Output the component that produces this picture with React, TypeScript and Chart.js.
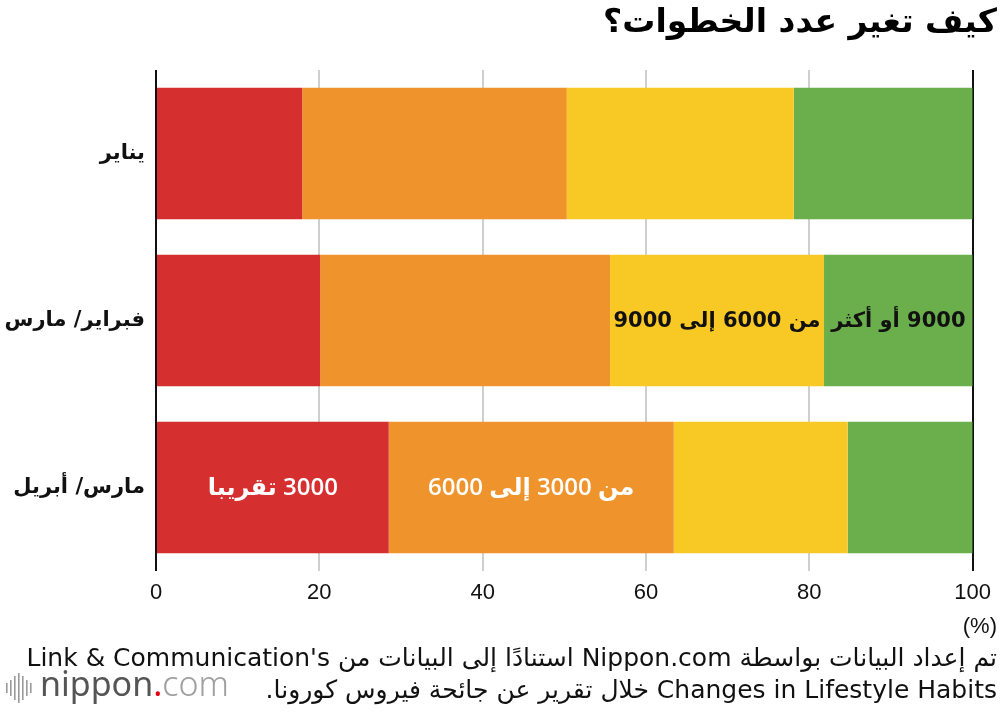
import React, { useEffect, useRef } from "react";
import { Chart, registerables } from "chart.js";

Chart.register(...registerables);

const categories = ["يناير", "فبراير/ مارس", "مارس/ أبريل"];
const seriesLabels = ["3000 تقريبا", "من 3000 إلى 6000", "من 6000 إلى 9000", "9000 أو أكثر"];
const under3000 = [17.9, 20.1, 28.5];
const from3000to6000 = [32.4, 35.5, 34.9];
const from6000to9000 = [27.8, 26.2, 21.3];
const over9000 = [21.9, 18.2, 15.3];
const seriesColors = ["#d62f30", "#ef942c", "#f8c924", "#6aaf4c"];
const labelTextColors = ["#ffffff", "#ffffff", "#111111", "#111111"];
const labelRows = [2, 2, 1, 1];
const xTicks = [0, 20, 40, 60, 80, 100];
const titleText = "كيف تغير عدد الخطوات؟";
const unitText = "(%)";
const footerLines = [
  "تم إعداد البيانات بواسطة Nippon.com استنادًا إلى البيانات من Link & Communication's",
  "Changes in Lifestyle Habits خلال تقرير عن جائحة فيروس كورونا.",
];

const barLabelPlugin = {
  id: "barLabels",
  afterDatasetsDraw(chart: any) {
    const ctx = chart.ctx;
    ctx.save();
    ctx.direction = "rtl";
    ctx.textAlign = "center";
    ctx.textBaseline = "middle";
    labelRows.forEach((row, di) => {
      const el = chart.getDatasetMeta(di).data[row];
      if (!el) return;
      const cx = (el.x + el.base) / 2;
      ctx.fillStyle = labelTextColors[di];
      ctx.font =
        di < 2
          ? "600 24px 'Open Sans', 'DejaVu Sans', sans-serif"
          : "bold 21px 'DejaVu Sans', sans-serif";
      ctx.fillText(seriesLabels[di], cx, el.y + 1);
    });
    ctx.restore();
  },
};

const textPlugin = {
  id: "texts",
  afterDraw(chart: any) {
    const ctx = chart.ctx;
    const W = chart.width;
    ctx.save();
    ctx.textBaseline = "middle";
    ctx.textAlign = "right";

    ctx.direction = "rtl";
    ctx.fillStyle = "#000";
    ctx.font = "bold 33px 'DejaVu Sans', sans-serif";
    ctx.fillText(titleText, W - 3, 23);

    ctx.direction = "ltr";
    ctx.fillStyle = "#111";
    ctx.font = "22px 'Liberation Sans', Arial, sans-serif";
    ctx.fillText(unitText, W - 3, 627);

    ctx.direction = "rtl";
    ctx.font = "25px 'DejaVu Sans', sans-serif";
    ctx.fillText(footerLines[0], W - 3, 659);
    ctx.fillText(footerLines[1], W - 3, 691);

    // logo
    ctx.direction = "ltr";
    ctx.textAlign = "left";
    ctx.fillStyle = "#9a9a9a";
    const bars = [10, 16, 24, 30, 24, 16, 10];
    bars.forEach((h, i) => {
      ctx.fillRect(6 + i * 4, 688 - h / 2, 1.6, h);
    });
    ctx.font = "34px 'Noto Sans', 'DejaVu Sans', sans-serif";
    let x = 40;
    ctx.fillStyle = "#555555";
    ctx.fillText("nippon", x, 686);
    x += ctx.measureText("nippon").width;
    ctx.fillStyle = "#e60012";
    ctx.fillText(".", x, 686);
    x += ctx.measureText(".").width;
    ctx.fillStyle = "#a0a0a0";
    ctx.font = "300 34px 'Noto Sans', 'DejaVu Sans', sans-serif";
    ctx.fillText("com", x, 686);
    ctx.restore();
  },
};

export default function App() {
  const ref = useRef<HTMLCanvasElement | null>(null);
  useEffect(() => {
    if (!ref.current) return;
    const chart = new Chart(ref.current, {
      type: "bar",
      data: {
        labels: categories,
        datasets: [under3000, from3000to6000, from6000to9000, over9000].map((d, i) => ({
          label: seriesLabels[i],
          data: d,
          backgroundColor: seriesColors[i],
          borderWidth: 0,
          barPercentage: 0.786,
          categoryPercentage: 1,
        })),
      },
      options: {
        indexAxis: "y",
        responsive: false,
        animation: false,
        devicePixelRatio: 1,
        layout: { padding: { left: 0, right: 27, top: 70, bottom: 91 } },
        plugins: {
          legend: { display: false },
          tooltip: { enabled: false },
          title: { display: false },
        },
        scales: {
          x: {
            stacked: true,
            min: 0,
            max: 100,
            afterBuildTicks: (scale: any) => {
              scale.ticks = xTicks.map((v) => ({ value: v }));
            },
            afterFit: (scale: any) => {
              scale.height = 50;
            },
            ticks: {
              color: "#111",
              font: { family: "'Liberation Sans', Arial, sans-serif", size: 22 },
              padding: 9,
              maxRotation: 0,
            },
            grid: {
              drawTicks: false,
              lineWidth: 2,
              color: (c: any) =>
                c.tick && (c.tick.value === 0 || c.tick.value === 100) ? "#111111" : "#cfcfcf",
            },
            border: { display: false },
          },
          y: {
            stacked: true,
            afterFit: (scale: any) => {
              scale.width = 156;
            },
            ticks: {
              color: "#111",
              font: { family: "'DejaVu Sans', sans-serif", size: 21, weight: "bold" },
              padding: 11,
            },
            grid: { display: false, drawTicks: false },
            border: { display: false },
          },
        },
      },
      plugins: [barLabelPlugin, textPlugin],
    });
    return () => chart.destroy();
  }, []);
  return (
    <div style={{ position: "fixed", left: 0, top: 0, width: 1000, height: 712, background: "#fff" }}>
      <canvas ref={ref} width={1000} height={712} dir="rtl" style={{ display: "block", direction: "rtl" }} />
    </div>
  );
}
